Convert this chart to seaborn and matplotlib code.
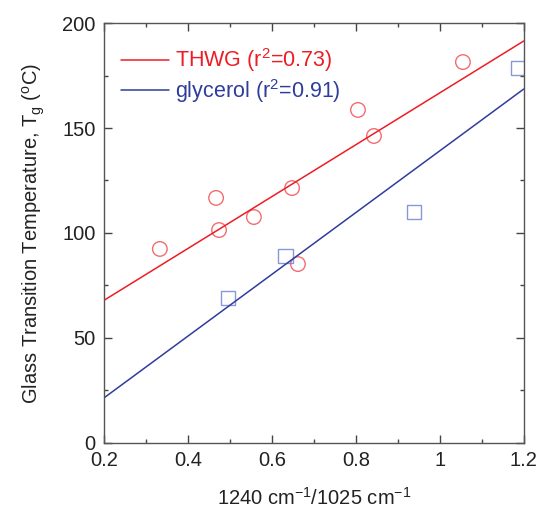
import matplotlib
matplotlib.use('Agg')
import matplotlib.pyplot as plt
import numpy as np
import pandas as pd
import seaborn as sns
from matplotlib.ticker import MultipleLocator, FuncFormatter

sns.set_style('ticks')
plt.rcParams['font.family'] = ['Liberation Sans', 'DejaVu Sans']
plt.rcParams['mathtext.default'] = 'regular'

# THWG samples (red circles)
thwg_x = [0.333, 0.467, 0.474, 0.557, 0.648, 0.662, 0.805, 0.843, 1.055]
thwg_y = [92.4, 116.7, 101.4, 107.6, 121.4, 85.2, 158.6, 146.2, 181.4]
# glycerol samples (blue squares)
gly_x = [0.495, 0.633, 0.938, 1.186]
gly_y = [69.0, 89.0, 110.0, 178.6]

thwg = pd.DataFrame({'ratio': thwg_x, 'tg': thwg_y})
gly = pd.DataFrame({'ratio': gly_x, 'tg': gly_y})

red_line, red_pt = '#ee1c25', '#f0474c'
blue_line, blue_pt = '#2e3d9c', '#6b7fd0'

fig = plt.figure(figsize=(5.4, 5.09), dpi=100)
ax = fig.add_axes([0.1926, 0.1297, 0.7774, 0.8251])
ax.set_xlim(0.2, 1.2)
ax.set_ylim(0, 200)

sns.regplot(data=thwg, x='ratio', y='tg', ax=ax, ci=None, truncate=False,
            marker='o',
            scatter_kws=dict(s=110, facecolors='none', edgecolors=red_pt, linewidths=1.0),
            line_kws=dict(color=red_line, lw=1.1, label='THWG (r$^2$=0.73)'))
sns.regplot(data=gly, x='ratio', y='tg', ax=ax, ci=None, truncate=False,
            marker='s',
            scatter_kws=dict(s=110, facecolors='none', edgecolors=blue_pt, linewidths=1.0),
            line_kws=dict(color=blue_line, lw=1.1, label='glycerol (r$^2$=0.91)'))

ax.set_xlim(0.2, 1.2)
ax.set_ylim(0, 200)
ax.xaxis.set_major_locator(MultipleLocator(0.2))
ax.xaxis.set_minor_locator(MultipleLocator(0.1))
ax.yaxis.set_major_locator(MultipleLocator(50))
ax.yaxis.set_minor_locator(MultipleLocator(25))
ax.xaxis.set_major_formatter(FuncFormatter(lambda v, p: f'{v:.1f}' if abs(v - round(v)) > 1e-9 else f'{int(round(v))}'))
ax.tick_params(which='both', direction='in', top=True, right=True, color='#444444',
               labelsize=14.5, labelcolor='#222222', pad=6)
ax.tick_params(which='major', length=6, width=1)
ax.tick_params(which='minor', length=3, width=1)
for s in ax.spines.values():
    s.set_color('#555555')
    s.set_linewidth(1.0)

ax.set_xlabel('1240 cm$^{-1}$/1025 cm$^{-1}$', fontsize=14.5, color='#222222', labelpad=12)
ax.set_ylabel('Glass Transition Temperature, T$_g$ ($^o$C)', fontsize=14.5, color='#222222', labelpad=11)

ax.legend(loc='upper left', bbox_to_anchor=(0.0, 0.985), frameon=False, fontsize=15.5,
          labelcolor='linecolor', handlelength=2.2, handletextpad=0.3,
          borderaxespad=0.3, borderpad=0.5, labelspacing=0.12)

fig.savefig('out.png', dpi=100)
